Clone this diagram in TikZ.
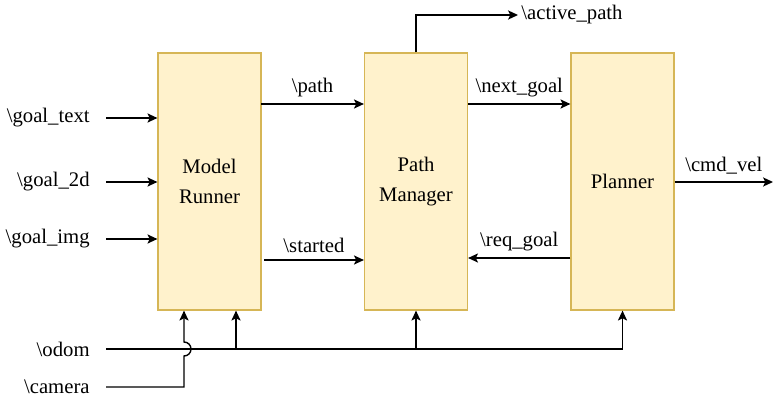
\documentclass[tikz,border=0pt]{standalone}
\usepackage{fontspec}
\setmainfont{Liberation Serif}
\usetikzlibrary{positioning, arrows.meta}
\newcommand{\topic}[1]{\textbackslash #1}

\begin{document}
\begin{tikzpicture}[
		x=0.5pt, y=-0.5pt,
		font=\fontsize{10.35pt}{15.3pt}\selectfont,
		block/.style={line width=0.6pt, minimum width=51.5pt, minimum height=128.5pt, align=center, inner sep=0pt},
		lbl/.style={anchor=east, inner sep=0pt},
		arr/.style={-{Stealth[length=5pt, width=4.6pt, inset=1.2pt]}, line width=0.7pt},
		wire/.style={line width=0.7pt}
		]
		\useasboundingbox (0,0) rectangle (780,401);
		\definecolor{blockfill}{HTML}{FFF2CC}
		\definecolor{blockdraw}{HTML}{D6B656}
		\tikzset{block/.append style={draw=blockdraw, fill=blockfill}}
		
		% ==========================================
		% BLOCKS
		% ==========================================
		\node[block] (mr) at (209.5,181.5) {Model\\Runner};
		\node[block] (pm) at (416,181.5) {Path\\Manager};
		\node[block] (pl) at (622.5,181.5) {Planner};
		
		% ==========================================
		% GOAL INPUTS
		% ==========================================
		\coordinate (gt) at (106,118);
		\coordinate (g2) at (106,182);
		\coordinate (gi) at (106,239);
		\node[lbl] (gt_l) at (90,118) {\topic{goal\_text}};
		\node[lbl] (g2_l) at (90,182) {\topic{goal\_2d}};
		\node[lbl] (gi_l) at (90,239) {\topic{goal\_img}};
		\draw[arr] (gt) -- (gt -| mr.west);
		\draw[arr] (g2) -- (g2 -| mr.west);
		\draw[arr] (gi) -- (gi -| mr.west);
		
		% ==========================================
		% BETWEEN BLOCKS
		% ==========================================
		\coordinate (pth) at (261,104);
		\coordinate (stt) at (264,260);
		\draw[arr] (pth) -- (pth -| pm.west) node[midway, above=0pt] {\topic{path}};
		\draw[arr] (stt) -- (stt -| pm.west) node[midway, above=0pt] {\topic{started}};
		\draw[arr] (pm.east |- pth) -- (pth -| pl.west) node[midway, above=0pt] {\topic{next\_goal}};
		\draw[arr] (pl.west |- 0,258) -- (pm.east |- 0,258) node[midway, above=0pt] {\topic{req\_goal}};
		
		% ==========================================
		% OUTPUTS
		% ==========================================
		\coordinate (cv) at (773,182);
		\draw[arr] (pl.east |- cv) -- (cv) node[midway, above=0pt] {\topic{cmd\_vel}};
		\coordinate (ap) at (518,15);
		\draw[arr] (pm.north) |- (ap);
		\node[anchor=west, inner sep=0pt] (ap_l) at (521,15) {\topic{active\_path}};
		
		% ==========================================
		% ODOM AND CAMERA
		% ==========================================
		\coordinate (od) at (106,349);
		\coordinate (cam) at (106,387);
		\node[lbl] (od_l) at (90,349) {\topic{odom}};
		\node[lbl] (cam_l) at (90,387) {\topic{camera}};
		\coordinate (camup) at ([xshift=-12.75pt]mr.south);
		\coordinate (odup) at ([xshift=13.25pt]mr.south);
		\coordinate (cross) at (camup |- od);
		
		\draw[arr] (od) -| (pl.south);
		\draw[arr] (odup |- od) -- (odup);
		\draw[arr] (pm.south |- od) -- (pm.south);
		\draw[arr] (cam) -| ([yshift=-3.5pt]cross) arc (90:-90:7) -- (camup);
		
	\end{tikzpicture}
\end{document}
